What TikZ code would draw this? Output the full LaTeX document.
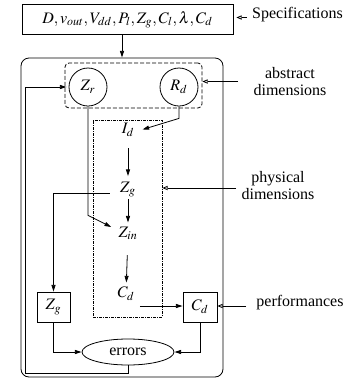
\documentclass[tikz,border=0pt]{standalone}
\usepackage{mathptmx}
\usepackage[no-math]{fontspec}
\setmainfont{Liberation Serif}
\usetikzlibrary{arrows.meta,calc,shapes.geometric}
\begin{document}
\begin{tikzpicture}[x=0.75pt,y=-0.75pt,
  font=\fontsize{12}{14}\selectfont,
  line width=0.6pt,
  arr/.style={-{Triangle[length=5pt,width=3pt]}},
  oarr/.style={-{Triangle[open,length=4pt,width=3.2pt]}},
  box/.style={draw,inner sep=0pt},
  lbl/.style={inner sep=0pt,text height=9pt,text depth=3pt},
  side/.style={inner sep=0pt,align=center,font=\fontsize{12}{12.5}\selectfont},
  circ/.style={draw,circle,minimum size=28.5pt,inner sep=0pt}
]
\useasboundingbox (0,0) rectangle (353,379);

\node[box,minimum width=158.25pt,minimum height=22.5pt] (spec) at (127.5,19.5) {$D, v_{out}, V_{dd}, P_l, Z_g, C_l, \lambda, C_d$};
\node[side] (specl) at (297.5,14.5) {Specifications};

\node[draw,rounded corners=6pt,minimum width=151.5pt,minimum height=239.25pt,inner sep=0pt] (outer) at (122,217.5) {};
\node[draw,dash pattern=on 3pt off 1.5pt,rounded corners=3pt,minimum width=102.75pt,minimum height=33.75pt,inner sep=0pt] (abs) at (133.5,85.5) {};
\node[circ] (Zr) at (88,87) {$Z_r$};
\node[circ] (Rd) at (179,87) {$R_d$};
\node[side] (absl) at (290,81.5) {abstract\\dimensions};

\node[draw,dash pattern=on 2pt off 1pt on 0.5pt off 1pt,minimum width=51.75pt,minimum height=147.75pt,inner sep=0pt] (phys) at (127.5,218.5) {};
\node[side] (physl) at (278,185.5) {physical\\dimensions};

\node[lbl] (Id) at (128,129.5) {$I_d$};
\node[lbl] (Zg) at (128,188.5) {$Z_g$};
\node[lbl] (Zin) at (128,233.5) {$Z_{in}$};
\node[lbl] (Cd) at (126,293.5) {$C_d$};

\node[box,minimum width=24.75pt,minimum height=22.5pt] (Zgb) at (53.5,307) {$Z_g$};
\node[box,minimum width=25.5pt,minimum height=22.5pt] (Cdb) at (200,307) {$C_d$};
\node[side] (perfl) at (300,303) {performances};

\node[draw,ellipse,minimum width=69pt,minimum height=19.5pt,inner sep=0pt] (err) at (128,352) {errors};

% side arrows
\draw[oarr] ($(specl.west)+(-5,3)$) coordinate (s1) -- ($(s1 -| spec.east)+(3,0)$);
\draw[oarr] ($(absl.west)+(-15,0)$) coordinate (a1) -- (a1 -| abs.east);
\draw[oarr] ($(physl.west)+(-5,2.5)$) coordinate (p1) -- (p1 -| phys.east);
\draw[oarr] ($(perfl.west)+(-10,3)$) coordinate (q1) -- (q1 -| Cdb.east);

% main flow
\draw[arr] (spec.south -| outer.north) -- (outer.north);
\draw[arr] (Rd.south) -- ++(0,12) -- ($(Id.east)+(8,0)$);
\draw[arr] (Zr.south) -- ++(0,109) -- ($(Zin.west)+(-7,-6.5)$);
\draw[arr,shorten <=7.9pt,shorten >=3pt] (Id) -- (Zg);
\draw[arr,shorten <=1.5pt,shorten >=1.9pt] (Zg) -- (Zin);
\draw[arr,shorten <=10pt,shorten >=1.9pt] (Zin) -- (Cd);
\draw[arr] ($(Zg.west)+(-10,4.5)$) -| (Zgb.north);
\draw[arr] ($(Cd.east)+(5,12.5)$) coordinate (c1) -- (c1 -| Cdb.west);
\draw[arr] (Zgb.south) |- (err.west);
\draw[arr] (Cdb.south) |- (err.east);
\draw[arr,shorten >=1.5pt] (err.south) -- ++(0,8) -| ($(Zr.west)+(-43,0)$) -- (Zr.west);
\end{tikzpicture}
\end{document}
